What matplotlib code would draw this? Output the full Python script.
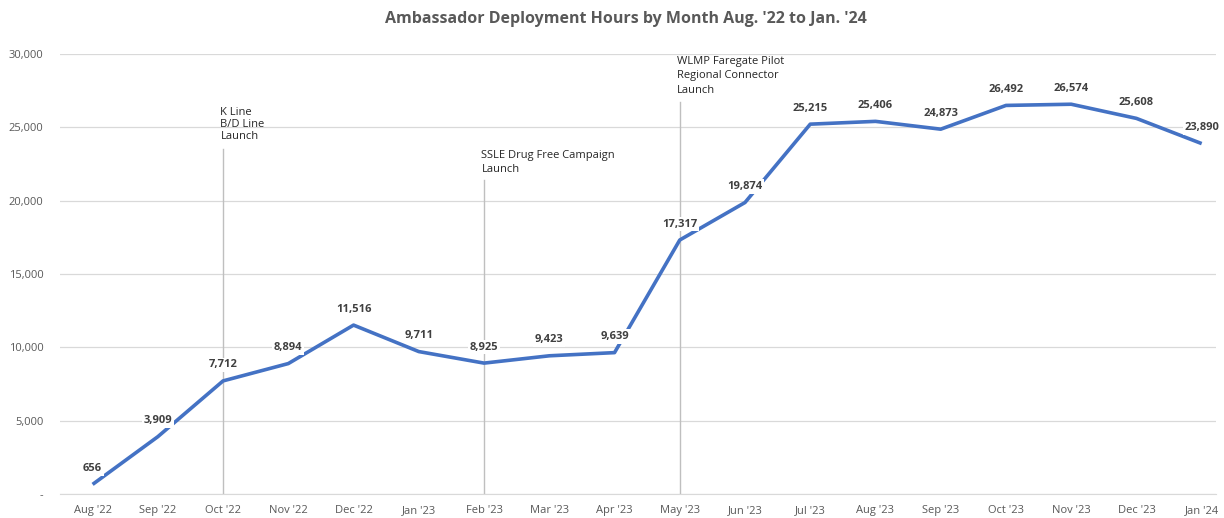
import matplotlib.pyplot as plt
from matplotlib.ticker import FuncFormatter

plt.rcParams['font.family'] = ['Open Sans', 'DejaVu Sans']

months = ["Aug '22", "Sep '22", "Oct '22", "Nov '22", "Dec '22", "Jan '23",
          "Feb '23", "Mar '23", "Apr '23", "May '23", "Jun '23", "Jul '23",
          "Aug '23", "Sep '23", "Oct '23", "Nov '23", "Dec '23", "Jan '24"]
hours = [656, 3909, 7712, 8894, 11516, 9711, 8925, 9423, 9639, 17317,
         19874, 25215, 25406, 24873, 26492, 26574, 25608, 23890]

# milestone markers: month index, top of marker line, text lines
event_months = [2, 6, 9]
event_tops = [23500, 21400, 26700]
event_texts = [["K Line", "B/D Line", "Launch"],
               ["SSLE Drug Free Campaign", "Launch"],
               ["WLMP Faregate Pilot", "Regional Connector", "Launch"]]
event_text_tops = [25980, 23110, 29520]

line_color = '#4472C4'
grey = '#595959'

fig = plt.figure(figsize=(12.24, 5.18), dpi=100)
ax = fig.add_axes([0.049, 0.0463, 0.9445, 0.8495])

x = list(range(len(months)))
ax.plot(x, hours, color=line_color, lw=2.6, solid_capstyle='butt', zorder=3)

for xi, yi in zip(x, hours):
    ax.annotate(f'{yi:,}', (xi, yi), xytext=(0, 11.5), textcoords='offset points',
                ha='center', va='center', fontsize=8, fontweight='bold', color='#404040',
                bbox=dict(boxstyle='square,pad=0.15', fc='white', ec='none'), zorder=4)

for m, top, lines, ttop in zip(event_months, event_tops, event_texts, event_text_tops):
    ax.plot([m, m], [0, top], color='#bfbfbf', lw=1, zorder=2)
    step = 1000 if len(lines) == 2 or m == 9 else 790
    for k, t in enumerate(lines):
        ax.text(m - 0.04, ttop - k * step, t, ha='left', va='center', fontsize=8,
                color='#262626', zorder=5 + k,
                bbox=dict(boxstyle='square,pad=0.12', fc='white', ec='none') if k == 2 and m == 2 else None)

ax.set_xlim(-0.5, 17.22)
ax.set_ylim(0, 30000)
ax.set_yticks(range(0, 30001, 5000))
ax.yaxis.set_major_formatter(FuncFormatter(lambda v, p: '-' if v == 0 else f'{int(v):,}'))
ax.set_xticks(x)
ax.set_xticklabels(months)
ax.tick_params(axis='both', length=0, labelsize=8, labelcolor=grey)
ax.tick_params(axis='y', pad=12)
ax.tick_params(axis='x', pad=8)
ax.grid(axis='y', color='#d9d9d9', lw=0.9)
ax.set_axisbelow(True)
for s in ['top', 'right', 'left']:
    ax.spines[s].set_visible(False)
ax.spines['bottom'].set_color('#d9d9d9')

fig.text(0.511, 0.963, "Ambassador Deployment Hours by Month Aug. '22 to Jan. '24",
         ha='center', va='center', fontsize=11.5, fontweight='bold', color=grey)

fig.savefig('out.png', dpi=100)
